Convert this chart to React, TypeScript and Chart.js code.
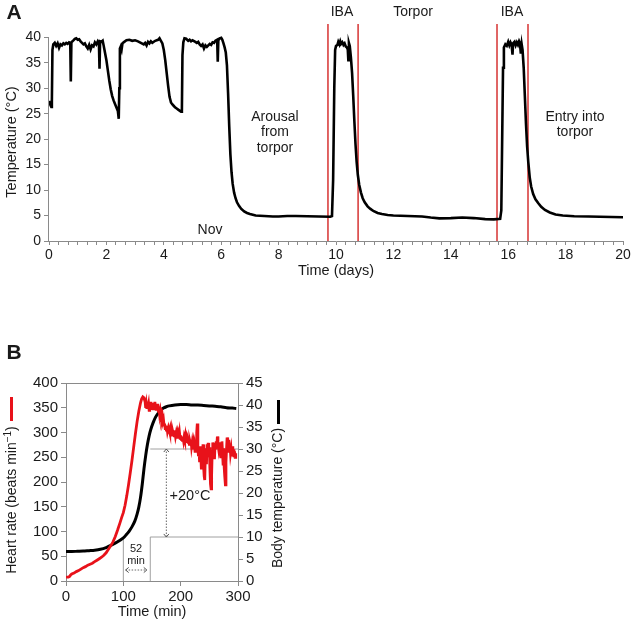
import React, { useEffect, useRef } from "react";
import { Chart, registerables } from "chart.js";
Chart.register(...registerables);

const FONT = "'Liberation Sans', Arial, Helvetica, sans-serif";

// ---------------- Panel A data ----------------
const aTime = [
  0.0, 0.04, 0.08, 0.1, 0.12, 0.15, 0.2, 0.25, 0.3, 0.35, 0.4, 0.45, 0.5, 0.55, 0.6, 0.65, 0.7, 0.74, 0.76, 0.78,
  0.85, 0.9, 0.95, 1.0, 1.05, 1.1, 1.15, 1.2, 1.25, 1.3, 1.35, 1.4, 1.45, 1.5, 1.55, 1.6, 1.65, 1.7, 1.74, 1.76,
  1.78, 1.83, 1.87, 1.9, 1.95, 2.0, 2.05, 2.1, 2.15, 2.2, 2.25, 2.3, 2.35, 2.4, 2.43, 2.45, 2.47, 2.5, 2.53, 2.56,
  2.6, 2.7, 2.8, 2.9, 3.0, 3.1, 3.2, 3.3, 3.35, 3.4, 3.45, 3.5, 3.55, 3.6, 3.7, 3.8, 3.85, 3.9, 3.95, 4.0,
  4.05, 4.1, 4.15, 4.2, 4.25, 4.3, 4.35, 4.4, 4.45, 4.5, 4.55, 4.6, 4.63, 4.65, 4.68, 4.72, 4.78, 4.85, 4.9, 4.95,
  5.0, 5.1, 5.15, 5.2, 5.25, 5.3, 5.35, 5.4, 5.45, 5.5, 5.55, 5.6, 5.65, 5.7, 5.75, 5.8, 5.86, 5.88, 5.9, 5.95,
  6.0, 6.04, 6.08, 6.12, 6.16, 6.2, 6.24, 6.28, 6.32, 6.36, 6.4, 6.45, 6.5, 6.55, 6.62, 6.7, 6.8, 6.9, 7.0, 7.2,
  7.5, 7.8, 8.0, 8.3, 8.6, 9.0, 9.4, 9.8, 9.86, 9.9, 9.94, 9.97, 10.0, 10.05, 10.08, 10.12, 10.15, 10.18, 10.22, 10.26,
  10.3, 10.34, 10.38, 10.41, 10.43, 10.45, 10.48, 10.52, 10.56, 10.6, 10.64, 10.68, 10.72, 10.76, 10.81, 10.87, 10.93, 11.0, 11.1, 11.2,
  11.3, 11.45, 11.6, 11.8, 12.0, 12.5, 13.0, 13.3, 13.6, 14.0, 14.4, 14.8, 15.2, 15.5, 15.72, 15.76, 15.79, 15.82, 15.85, 15.9,
  15.95, 16.0, 16.04, 16.08, 16.12, 16.15, 16.17, 16.22, 16.26, 16.3, 16.34, 16.38, 16.41, 16.44, 16.47, 16.5, 16.54, 16.58, 16.62, 16.66,
  16.7, 16.75, 16.8, 16.87, 16.95, 17.05, 17.15, 17.28, 17.45, 17.65, 17.9, 18.3, 18.8, 19.2, 19.6, 20.0,
];
const aTemp = [
  27.5, 26.8, 26.3, 27.5, 37.5, 38.6, 38.9, 38.3, 38.8, 37.9, 38.6, 38.4, 38.8, 38.6, 38.9, 38.7, 39.0, 38.9, 31.3, 39.0,
  39.4, 39.7, 39.8, 39.5, 39.6, 39.2, 38.9, 38.6, 38.8, 38.2, 37.8, 38.5, 37.6, 38.4, 38.2, 39.0, 38.6, 39.2, 38.8, 33.8,
  39.2, 39.1, 39.3, 38.5, 37.0, 35.5, 33.5, 31.5, 29.8, 28.5, 27.6, 26.9, 26.2, 25.5, 24.0, 30.0, 37.8, 38.2, 37.6, 38.8,
  39.0, 39.4, 39.5, 39.3, 39.4, 39.2, 38.9, 38.6, 38.9, 38.4, 39.1, 38.8, 39.2, 38.9, 39.3, 39.5, 39.8, 39.3, 38.8, 37.5,
  35.5, 33.0, 30.5, 28.3, 27.2, 26.8, 26.5, 26.2, 26.0, 25.8, 25.6, 25.4, 25.5, 36.5, 39.0, 39.8, 39.7, 39.3, 39.5, 39.2,
  39.4, 39.1, 38.9, 39.1, 38.6, 38.3, 38.6, 37.8, 38.4, 38.1, 38.4, 38.7, 38.5, 39.0, 38.9, 39.3, 39.5, 35.2, 39.4, 39.8,
  39.9, 39.5, 38.8, 38.0, 37.0, 34.5, 29.0, 22.5, 17.0, 13.5, 11.2, 9.5, 8.4, 7.6, 6.9, 6.3, 5.8, 5.5, 5.3, 5.0,
  4.9, 4.8, 4.8, 4.9, 4.9, 4.85, 4.8, 4.75, 4.9, 12.0, 30.0, 37.5, 38.3, 38.5, 39.1, 38.6, 39.2, 38.7, 39.0, 38.5,
  38.8, 38.2, 38.0, 37.6, 35.5, 38.9, 38.3, 36.0, 33.0, 28.5, 23.5, 19.0, 15.5, 13.0, 11.0, 9.5, 8.4, 7.6, 6.8, 6.3,
  5.9, 5.5, 5.3, 5.1, 5.0, 4.9, 4.8, 4.6, 4.45, 4.5, 4.6, 4.5, 4.3, 4.25, 4.35, 6.0, 20.0, 34.0, 38.0, 38.6,
  38.3, 39.1, 38.4, 39.0, 38.5, 36.6, 38.8, 39.1, 38.4, 39.0, 38.5, 39.2, 38.8, 36.8, 38.6, 37.5, 34.0, 28.5, 23.0, 18.5,
  15.5, 12.5, 10.7, 9.2, 8.2, 7.4, 6.7, 6.1, 5.6, 5.2, 5.0, 4.85, 4.8, 4.75, 4.7, 4.65,
];
const ibaDays = [9.72, 10.77, 15.61, 16.69];
const aTempTicks = [0, 5, 10, 15, 20, 25, 30, 35, 40];
const aDayLabels = [0, 2, 4, 6, 8, 10, 12, 14, 16, 18, 20];
const A_TOP = 42.6;

// ---------------- Panel B data ----------------
const hrTime = [
  0, 2, 4, 6, 8, 10, 14, 18, 22, 26, 30, 34, 38, 42, 46, 50, 54, 58, 62, 66, 70, 74, 78, 82, 86, 90, 94, 97, 100, 103,
  106, 109, 112, 115, 118, 121, 124, 127, 130, 132, 134, 136, 138, 139, 140, 141, 142, 143, 144, 145, 146, 147, 148, 149, 150,
  151, 152, 153, 154, 155, 156, 157, 158, 159, 160, 161, 162, 163, 164, 165, 166, 167, 168, 169, 170, 171, 172, 173, 174, 175,
  176, 177, 178, 179, 180, 181, 182, 183, 184, 185, 186, 187, 188, 189, 190, 191, 192, 193, 194, 195, 196, 197, 198, 199, 200,
  201, 202, 203, 204, 205, 206, 207, 208, 209, 210, 211, 212, 213, 214, 215, 216, 217, 218, 219, 220, 221, 222, 223, 224, 225,
  226, 227, 228, 229, 230, 231, 232, 233, 234, 235, 236, 237, 238, 239, 240, 241, 242, 243, 244, 245, 246, 247, 248, 249, 250,
  251, 252, 253, 254, 255, 256, 257, 258, 259, 260, 261, 262, 263, 264, 265, 266, 267, 268, 269, 270, 271, 272, 273, 274, 275,
  276, 277, 278, 279, 280, 281, 282, 283, 284, 285, 286, 287, 288, 289, 290, 291, 292, 293, 294, 295, 296,
];
const heartRate = [
  7, 8, 8, 9, 12, 14, 16, 19, 21, 24, 27, 29, 32, 34, 36, 39, 42, 45, 48, 52, 57, 64, 71, 79, 90, 103, 117, 128, 138, 153,
  172, 194, 218, 243, 270, 297, 322, 343, 360, 368, 372, 370, 362, 350, 358, 348, 362, 352, 358, 345, 360, 350, 362, 346, 355,
  360, 348, 358, 350, 362, 352, 347, 356, 349, 358, 343, 352, 340, 345, 334, 338, 328, 333, 322, 326, 315, 318, 308, 314, 305,
  311, 302, 307, 298, 305, 300, 306, 296, 302, 295, 303, 298, 304, 293, 300, 292, 298, 290, 297, 288, 296, 290, 299, 288, 294,
  286, 292, 284, 290, 283, 291, 286, 293, 282, 288, 279, 286, 280, 287, 276, 283, 278, 285, 272, 280, 270, 278, 266, 274, 262,
  280, 268, 300, 318, 270, 252, 266, 240, 272, 258, 228, 262, 246, 276, 232, 212, 204, 255, 268, 236, 276, 262, 279, 250, 270,
  228, 196, 186, 215, 262, 280, 258, 274, 246, 279, 266, 282, 272, 292, 276, 268, 280, 256, 270, 248, 266, 282, 260, 236, 268,
  228, 210, 194, 240, 266, 290, 276, 262, 285, 270, 276, 258, 266, 252, 272, 256, 266, 250, 262, 250, 258,
];
const tbTime = [
  0, 10, 20, 30, 40, 50, 60, 70, 80, 90, 100, 105, 110, 115, 120, 124, 127, 130, 133, 136, 139, 142, 145, 148, 152, 156,
  160, 165, 170, 175, 180, 190, 200, 210, 220, 230, 240, 250, 260, 270, 280, 290, 297,
];
const bodyTemp = [
  6.7, 6.7, 6.75, 6.8, 6.9, 7.0, 7.2, 7.6, 8.2, 8.9, 9.8, 10.5, 11.3, 12.3, 13.6, 15.2, 16.8, 19.0, 22.0, 25.5, 28.5, 31.0,
  33.0, 34.5, 36.0, 37.2, 38.0, 38.8, 39.3, 39.6, 39.8, 40.0, 40.1, 40.1, 40.0, 40.0, 39.9, 39.8, 39.7, 39.6, 39.4, 39.3, 39.2,
];
const hrTicks = [0, 50, 100, 150, 200, 250, 300, 350, 400];
const tbTicks = [0, 5, 10, 15, 20, 25, 30, 35, 40, 45];
const minTicks = [0, 100, 200, 300];
// guide segments [time (min), body temperature (°C)]
const guideLines = [
  [[100, 0], [100, 10]],
  [[147, 0], [147, 10], [300, 10]],
  [[147, 30], [300, 30]],
];
const arrowLines = [
  [[175, 10], [175, 30]],
  [[104, 2.5], [141, 2.5]],
];

const TXT = "#1a1a1a";
const AXIS = "#8a8a8a";

function txt(ctx: CanvasRenderingContext2D, s: string, x: number, y: number, size = 14, bold = false) {
  ctx.font = `${bold ? "bold " : ""}${size}px ${FONT}`;
  ctx.fillStyle = TXT;
  ctx.textAlign = "center";
  ctx.textBaseline = "middle";
  ctx.fillText(s, x, y);
}

const annotA = {
  id: "annotA",
  afterDraw(chart: any) {
    const { ctx, scales } = chart;
    const x = scales.x, y = scales.y;
    ctx.save();
    ctx.strokeStyle = AXIS;
    ctx.lineWidth = 1;
    const lx = Math.round(chart.chartArea.left) - 0.5;
    ctx.beginPath();
    ctx.moveTo(lx, y.getPixelForValue(0));
    ctx.lineTo(lx, y.getPixelForValue(40));
    ctx.stroke();
    txt(ctx, "A", 14, 13, 21, true);
    txt(ctx, "IBA", 342, 12);
    txt(ctx, "Torpor", 413, 12);
    txt(ctx, "IBA", 512, 12);
    txt(ctx, "Arousal", 275, 117);
    txt(ctx, "from", 275, 132.5);
    txt(ctx, "torpor", 275, 148);
    txt(ctx, "Entry into", 575, 117);
    txt(ctx, "torpor", 575, 132.5);
    txt(ctx, "Nov", 210, 230);
    txt(ctx, "Time (days)", (x.left + x.right) / 2, 271, 14.5);
    ctx.translate(12, 142);
    ctx.rotate(-Math.PI / 2);
    txt(ctx, "Temperature (°C)", 0, 0, 14.5);
    ctx.restore();
  },
};

const annotB = {
  id: "annotB",
  afterDraw(chart: any) {
    const { ctx, scales, chartArea } = chart;
    const x = scales.x, yT = scales.yT;
    ctx.save();
    // top frame line
    ctx.strokeStyle = AXIS;
    ctx.lineWidth = 1;
    ctx.beginPath();
    ctx.moveTo(chartArea.left, Math.round(chartArea.top) + 0.5);
    ctx.lineTo(chartArea.right, Math.round(chartArea.top) + 0.5);
    ctx.stroke();
    // arrowheads
    ctx.strokeStyle = "#555";
    ctx.lineWidth = 1;
    arrowLines.forEach((seg) => {
      const p0 = { x: x.getPixelForValue(seg[0][0]), y: yT.getPixelForValue(seg[0][1]) };
      const p1 = { x: x.getPixelForValue(seg[1][0]), y: yT.getPixelForValue(seg[1][1]) };
      const ang = Math.atan2(p1.y - p0.y, p1.x - p0.x);
      const head = (p: any, a: number) => {
        ctx.beginPath();
        ctx.moveTo(p.x + 4 * Math.cos(a + 0.7), p.y + 4 * Math.sin(a + 0.7));
        ctx.lineTo(p.x, p.y);
        ctx.lineTo(p.x + 4 * Math.cos(a - 0.7), p.y + 4 * Math.sin(a - 0.7));
        ctx.stroke();
      };
      head(p0, ang);
      head(p1, ang + Math.PI);
    });
    txt(ctx, "B", 14, 23, 21, true);
    txt(ctx, "Time (min)", (x.left + x.right) / 2, 282, 14.5);
    txt(ctx, "+20°C", 190, 166, 14.5);
    txt(ctx, "52", 136, 219, 11);
    txt(ctx, "min", 136, 231, 11);
    // colour keys
    ctx.fillStyle = "#e8121a";
    ctx.fillRect(10, 67, 3, 24);
    ctx.fillStyle = "#000";
    ctx.fillRect(277, 70, 3, 24);
    // left title with superscript
    ctx.save();
    ctx.translate(12, 170);
    ctx.rotate(-Math.PI / 2);
    const main = "Heart rate (beats min";
    const sup = "−1";
    const end = ")";
    ctx.font = `14px ${FONT}`;
    const w1 = ctx.measureText(main).width;
    const w3 = ctx.measureText(end).width;
    ctx.font = `10px ${FONT}`;
    const w2 = ctx.measureText(sup).width;
    let sx = -(w1 + w2 + w3) / 2;
    ctx.fillStyle = TXT;
    ctx.textAlign = "left";
    ctx.textBaseline = "middle";
    ctx.font = `14px ${FONT}`;
    ctx.fillText(main, sx, 0);
    ctx.font = `10px ${FONT}`;
    ctx.fillText(sup, sx + w1, -4);
    ctx.font = `14px ${FONT}`;
    ctx.fillText(end, sx + w1 + w2, 0);
    ctx.restore();
    ctx.translate(278, 168);
    ctx.rotate(-Math.PI / 2);
    txt(ctx, "Body temperature (°C)", 0, 0, 14);
    ctx.restore();
  },
};

function makeA(canvas: HTMLCanvasElement) {
  return new Chart(canvas, {
    type: "line",
    data: {
      datasets: [
        {
          data: aTime.map((t, i) => ({ x: t, y: aTemp[i] })),
          borderColor: "#000",
          borderWidth: 2.6,
          pointRadius: 0,
          tension: 0,
          order: 0,
        },
        ...ibaDays.map((d) => ({
          data: [
            { x: d, y: 0 },
            { x: d, y: A_TOP },
          ],
          borderColor: "#d9403f",
          borderWidth: 1.6,
          pointRadius: 0,
          order: 1,
        })),
      ],
    },
    options: {
      animation: false,
      responsive: false,
      maintainAspectRatio: false,
      plugins: { legend: { display: false }, tooltip: { enabled: false } },
      layout: { padding: { top: 24, right: 17, left: 0, bottom: 0 } },
      scales: {
        x: {
          type: "linear",
          min: 0,
          max: 20,
          afterBuildTicks: (s: any) => {
            const t = [];
            for (let k = 0; k <= 60; k++) t.push({ value: k / 3 });
            s.ticks = t;
          },
          afterFit: (s: any) => {
            s.height = 39;
          },
          ticks: {
            autoSkip: false,
            maxRotation: 0,
            padding: 2,
            color: TXT,
            font: { size: 14, family: FONT },
            callback: (v: any) => {
              const r = Math.round(v);
              return Math.abs(v - r) < 1e-6 && aDayLabels.includes(r) ? String(r) : "";
            },
          },
          grid: { drawOnChartArea: false, tickLength: 4, color: AXIS },
          border: { color: AXIS },
        },
        y: {
          type: "linear",
          min: 0,
          max: A_TOP,
          afterBuildTicks: (s: any) => {
            s.ticks = aTempTicks.map((v) => ({ value: v }));
          },
          afterFit: (s: any) => {
            s.width = 49;
          },
          ticks: { padding: 3, color: TXT, font: { size: 14, family: FONT } },
          grid: { drawOnChartArea: false, tickLength: 5, color: AXIS },
          border: { display: false },
        },
      },
    },
    plugins: [annotA],
  } as any);
}

function makeB(canvas: HTMLCanvasElement) {
  return new Chart(canvas, {
    type: "line",
    data: {
      datasets: [
        {
          data: hrTime.map((t, i) => ({ x: t, y: heartRate[i] })),
          yAxisID: "yH",
          borderColor: "#e8121a",
          borderWidth: 2.8,
          pointRadius: 0,
          tension: 0,
          order: 0,
        },
        {
          data: tbTime.map((t, i) => ({ x: t, y: bodyTemp[i] })),
          yAxisID: "yT",
          borderColor: "#000",
          borderWidth: 3,
          pointRadius: 0,
          tension: 0.3,
          order: 1,
        },
        ...guideLines.map((seg) => ({
          data: seg.map((p) => ({ x: p[0], y: p[1] })),
          yAxisID: "yT",
          borderColor: "#a0a0a0",
          borderWidth: 1,
          pointRadius: 0,
          tension: 0,
          order: 3,
        })),
        ...arrowLines.map((seg) => ({
          data: seg.map((p) => ({ x: p[0], y: p[1] })),
          yAxisID: "yT",
          borderColor: "#666",
          borderWidth: 1,
          borderDash: [1.5, 1.5],
          pointRadius: 0,
          tension: 0,
          order: 3,
        })),
      ],
    },
    options: {
      animation: false,
      responsive: false,
      maintainAspectRatio: false,
      plugins: { legend: { display: false }, tooltip: { enabled: false } },
      layout: { padding: { top: 53, right: 0, left: 0, bottom: 0 } },
      scales: {
        x: {
          type: "linear",
          min: 0,
          max: 300,
          afterBuildTicks: (s: any) => {
            s.ticks = minTicks.map((v) => ({ value: v }));
          },
          afterFit: (s: any) => {
            s.height = 41;
          },
          ticks: { autoSkip: false, maxRotation: 0, padding: 2, color: TXT, font: { size: 15, family: FONT } },
          grid: { drawOnChartArea: false, tickLength: 5, color: AXIS },
          border: { color: AXIS },
        },
        yH: {
          type: "linear",
          position: "left",
          min: 0,
          max: 400,
          afterBuildTicks: (s: any) => {
            s.ticks = hrTicks.map((v) => ({ value: v }));
          },
          afterFit: (s: any) => {
            s.width = 66;
          },
          ticks: { padding: 3, color: TXT, font: { size: 15, family: FONT } },
          grid: { drawOnChartArea: false, tickLength: 5, color: AXIS },
          border: { color: AXIS },
        },
        yT: {
          type: "linear",
          position: "right",
          min: 0,
          max: 45,
          afterBuildTicks: (s: any) => {
            s.ticks = tbTicks.map((v) => ({ value: v }));
          },
          afterFit: (s: any) => {
            s.width = 82;
          },
          ticks: { padding: 3, color: TXT, font: { size: 15, family: FONT } },
          grid: { drawOnChartArea: false, tickLength: 5, color: AXIS },
          border: { color: AXIS },
        },
      },
    },
    plugins: [annotB],
  } as any);
}

export default function App() {
  const refA = useRef<HTMLCanvasElement | null>(null);
  const refB = useRef<HTMLCanvasElement | null>(null);
  useEffect(() => {
    const a = makeA(refA.current!);
    const b = makeB(refB.current!);
    return () => {
      a.destroy();
      b.destroy();
    };
  }, []);
  return (
    <div style={{ position: "absolute", left: 0, top: 0, width: 640, height: 622, background: "#fff" }}>
      <canvas
        ref={refA}
        width={640}
        height={280}
        style={{ position: "absolute", left: 0, top: 0, width: 640, height: 280 }}
      />
      <canvas
        ref={refB}
        width={320}
        height={292}
        style={{ position: "absolute", left: 0, top: 330, width: 320, height: 292 }}
      />
    </div>
  );
}
